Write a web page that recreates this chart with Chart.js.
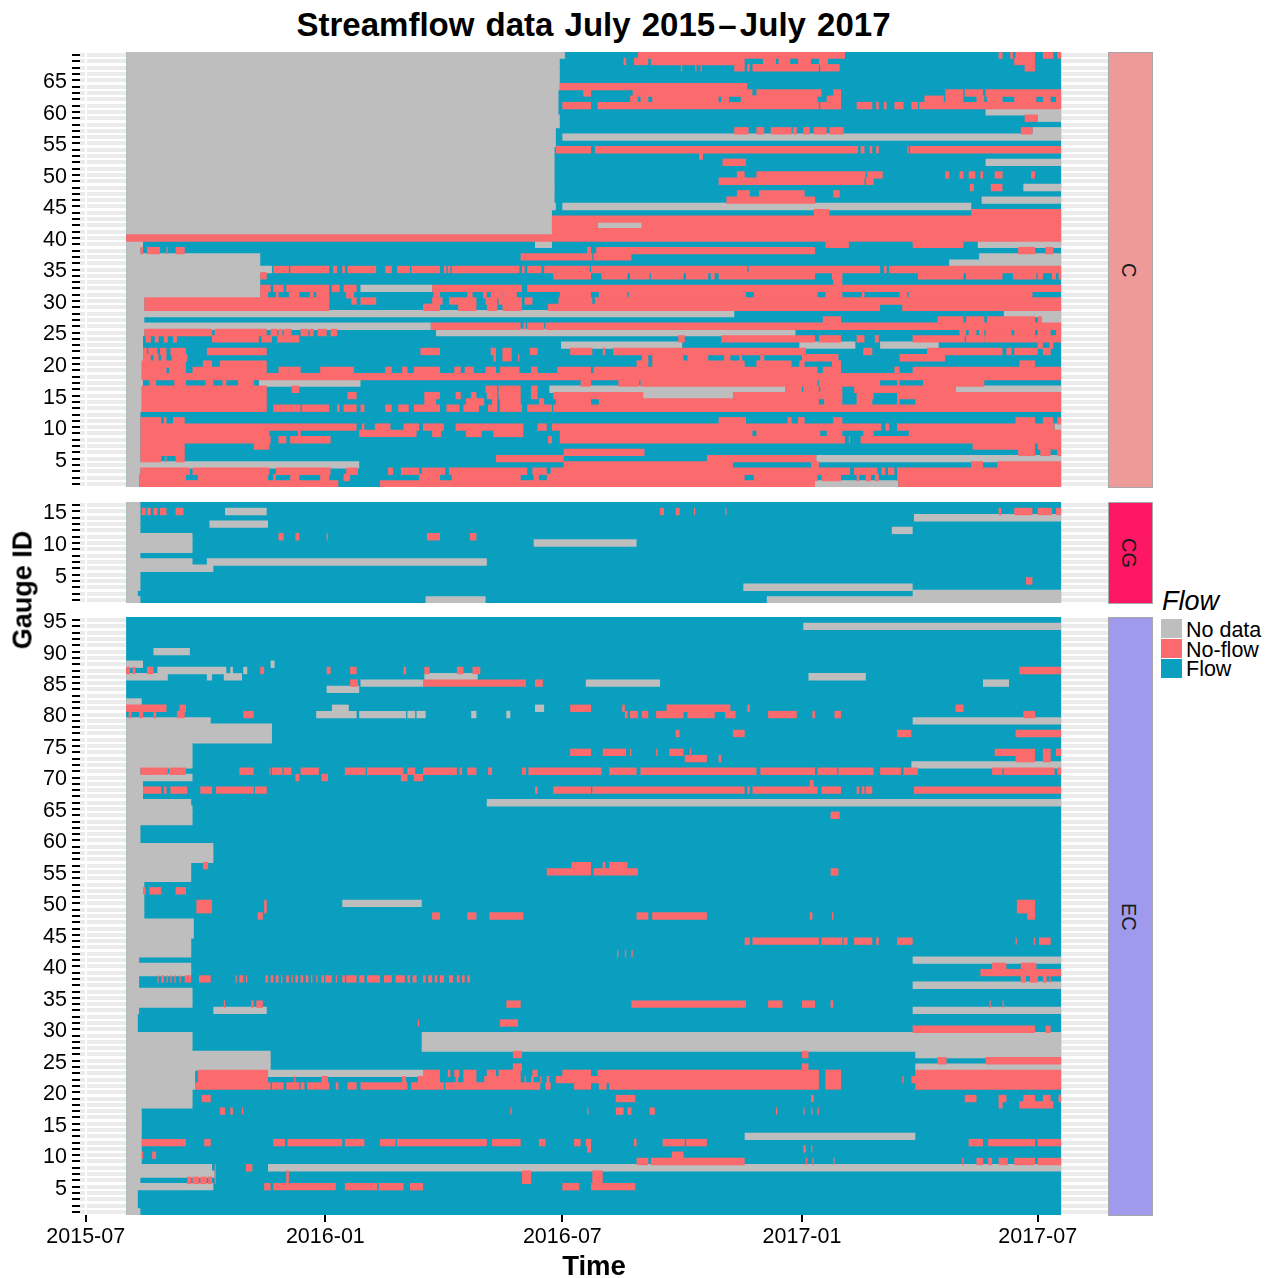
<!DOCTYPE html>
<html>
<head>
<meta charset="utf-8">
<title>Streamflow data</title>
<script src="https://cdn.jsdelivr.net/npm/chart.js@4"></script>
<style>
body { margin: 0; background: #fff; font-family: "Liberation Sans", Arial, sans-serif; color: #000; }
#page { position: relative; width: 1270px; height: 1278px; overflow: hidden; }
canvas { position: absolute; left: 0; }
.txt { position: absolute; white-space: nowrap; }
#title { left: 0; width: 1187px; top: 6px; text-align: center; font-weight: bold; font-size: 33px; word-spacing: 2px; }
#title span { word-spacing: -6px; }
#ylab { left: 23px; top: 590px; font-weight: bold; font-size: 27px; transform: translate(-50%, -50%) rotate(-90deg); }
#xlab { left: 594px; top: 1266px; font-weight: bold; font-size: 27.5px; transform: translate(-50%, -50%); }
.strip { position: absolute; left: 1108px; width: 43px; box-sizing: content-box; border: 1px solid #a8a8a8; display: flex; align-items: center; justify-content: center; font-size: 20px; color: #1a1a1a; }
.strip span { writing-mode: vertical-rl; margin-right: 4px; }
#legtitle { left: 1162px; top: 586px; font-style: italic; font-size: 27px; }
.key { position: absolute; left: 1161px; width: 21px; height: 19px; }
.keytxt { position: absolute; left: 1186px; font-size: 21.5px; line-height: 20px; }
</style>
</head>
<body>
<div id="page">
  <div class="txt" id="title">Streamflow data July <span>2015 – July</span> 2017</div>
  <canvas id="panelC" width="1108" height="447" style="top:40px"></canvas>
  <canvas id="panelCG" width="1108" height="113" style="top:490px"></canvas>
  <canvas id="panelEC" width="1108" height="650" style="top:605px"></canvas>
  <div class="strip" style="top:52px;height:434px;background:#ee9a99"><span>C</span></div>
  <div class="strip" style="top:502px;height:100px;background:#fd1765"><span>CG</span></div>
  <div class="strip" style="top:617px;height:597px;background:#a09aec"><span>EC</span></div>
  <div class="txt" id="ylab">Gauge ID</div>
  <div class="txt" id="xlab">Time</div>
  <div class="txt" id="legtitle">Flow</div>
  <div class="key" style="top:619px;background:#bebebe"></div><div class="keytxt" style="top:620px">No data</div>
  <div class="key" style="top:639px;background:#fb6a6c"></div><div class="keytxt" style="top:640px">No-flow</div>
  <div class="key" style="top:659px;background:#0a9fbe"></div><div class="keytxt" style="top:659px">Flow</div>
</div>
<script>
// all x values are days since 2015-07-01, rows are [gauge, from, to]
const tickDays = [0, 184, 366, 550, 731];
const tickLabels = ['2015-07', '2016-01', '2016-07', '2017-01', '2017-07'];
const recordStart = 31;
const recordEnd = 749;

const cNoData = [
  [69,31,368],[68,31,364],[67,31,364],[66,31,364],[65,31,364],[64,31,364],[63,31,363],[62,31,363],[61,31,363],[60,31,363],
  [60,691,749],[59,31,364],[59,731,749],[58,31,364],[57,31,361],[57,727,749],[56,31,361],[56,366,749],[55,31,361],
  [54,31,360],[53,31,360],[52,31,360],[52,691,749],[51,31,360],[50,31,360],[49,31,360],[48,31,360],[48,720,749],[47,31,360],
  [46,31,360],[46,688,749],[45,31,361],[45,366,680],[44,31,358],[43,31,358],[42,31,358],[42,393,427],[41,31,358],
  [39,31,44],[39,345,358],[39,685,749],[38,31,42],[37,31,134],[37,686,749],[36,31,134],[36,663,749],
  [35,31,143],[34,31,134],[33,31,134],[32,31,134],[32,211,266],[31,31,134],[30,31,45],[29,31,45],[28,31,498],[28,705,749],
  [27,31,45],[27,734,749],[26,31,265],[25,31,45],[25,269,545],[24,31,44],[23,31,44],[23,365,458],[23,548,591],[23,610,655],
  [22,31,44],[21,31,44],[20,31,43],[19,31,43],[18,31,43],[17,31,44],[17,133,211],[16,31,43],[16,356,537],[16,668,749],
  [15,31,43],[15,428,497],[14,31,43],[13,31,43],[12,31,42],[11,31,42],[10,31,42],[10,744,749],[9,31,42],[8,31,42],
  [7,31,42],[6,31,42],[5,31,42],[5,561,749],[4,31,210],[3,31,42],[2,31,41],[1,31,41],[1,560,624]
];
const cNoFlow = [
  [69,424,583],[69,701,704],[69,710,712],[69,714,729],[69,735,743],[69,746,749],
  [68,413,415],[68,421,432],[68,434,506],[68,520,530],[68,532,541],[68,547,557],[68,563,570],[68,713,729],
  [67,457,458],[67,468,469],[67,472,473],[67,498,506],[67,508,510],[67,512,563],[67,564,579],[67,721,729],
  [64,364,508],
  [63,382,388],[63,420,512],[63,515,565],[63,574,580],[63,660,674],[63,675,689],[63,691,749],
  [62,418,424],[62,426,432],[62,435,486],[62,488,494],[62,503,562],[62,569,580],[62,644,659],[62,660,674],[62,684,690],[62,692,704],[62,713,730],[62,735,741],[62,745,749],
  [61,366,388],[61,393,563],[61,564,580],[61,592,604],[61,607,609],[61,613,615],[61,621,628],[61,634,639],[61,640,749],
  [59,721,731],
  [57,498,509],[57,515,521],[57,526,542],[57,543,546],[57,551,556],[57,559,569],[57,571,582],[57,718,727],
  [54,361,388],[54,391,593],[54,595,598],[54,602,604],[54,607,609],[54,631,632],[54,633,749],
  [53,471,474],
  [52,489,507],
  [50,500,506],[50,515,599],[50,600,612],[50,660,663],[50,671,674],[50,678,683],[50,687,689],[50,698,704],[50,726,729],
  [49,486,598],[49,599,605],
  [48,679,682],[48,695,704],
  [47,500,510],[47,517,552],[47,574,579],
  [46,492,560],
  [44,559,571],[44,680,749],
  [43,358,749],
  [42,358,393],[42,427,749],
  [41,358,749],
  [40,31,749],
  [39,568,586],[39,635,674],
  [38,42,44],[38,47,57],[38,62,63],[38,69,76],[38,385,388],[38,392,560],[38,716,729],[38,737,743],
  [37,334,389],[37,390,419],
  [35,144,156],[35,157,187],[35,190,193],[35,197,199],[35,201,223],[35,230,235],[35,239,249],[35,250,272],[35,275,277],[35,278,280],[35,281,333],[35,335,337],[35,339,350],[35,352,387],[35,388,508],[35,509,610],[35,613,615],[35,617,619],[35,619,749],
  [34,134,139],[34,359,388],[34,396,416],[34,418,433],[34,434,459],[34,461,478],[34,480,483],[34,486,560],[34,573,581],[34,639,674],[34,676,704],[34,712,730],[34,731,735],[34,742,745],[34,747,749],
  [33,574,581],
  [32,134,142],[32,144,152],[32,154,187],[32,189,195],[32,198,208],[32,266,335],[32,339,749],
  [31,134,140],[31,146,148],[31,156,164],[31,172,175],[31,177,187],[31,200,206],[31,267,272],[31,293,297],[31,305,308],[31,311,320],[31,320,331],[31,364,388],[31,394,416],[31,417,507],[31,513,562],[31,568,581],[31,596,598],[31,625,631],[31,632,727],
  [30,45,187],[30,204,208],[30,211,223],[30,266,274],[30,279,300],[30,307,316],[30,317,335],[30,337,343],[30,363,389],[30,391,749],
  [29,45,187],[29,259,272],[29,286,300],[29,308,316],[29,320,335],[29,355,610],[29,627,749],
  [27,566,580],[27,654,674],[27,676,690],[27,692,729],[27,731,734],
  [26,265,334],[26,336,338],[26,339,352],[26,353,749],
  [25,45,97],[25,99,139],[25,142,147],[25,148,151],[25,152,158],[25,165,171],[25,172,175],[25,178,185],[25,188,193],[25,671,676],[25,678,684],[25,686,690],[25,691,711],[25,713,729],[25,731,741],[25,745,749],
  [24,46,50],[24,53,56],[24,60,63],[24,67,70],[24,97,133],[24,135,143],[24,147,164],[24,455,460],[24,488,560],[24,563,580],[24,592,598],[24,606,609],[24,635,675],[24,676,690],[24,690,749],
  [23,731,735],[23,740,743],
  [22,44,47],[22,48,55],[22,57,62],[22,65,77],[22,93,139],[22,257,272],[22,311,315],[22,320,327],[22,341,347],[22,372,389],[22,397,399],[22,405,553],[22,597,604],[22,646,704],[22,707,711],[22,713,731],[22,735,741],
  [21,44,50],[21,52,56],[21,58,62],[21,66,78],[21,313,315],[21,320,327],[21,332,333],[21,427,432],[21,435,459],[21,462,478],[21,490,495],[21,502,504],[21,518,521],[21,550,578],[21,625,660],
  [20,43,77],[20,90,97],[20,103,139],[20,423,432],[20,435,506],[20,515,542],[20,548,552],[20,573,580],[20,717,729],
  [19,43,62],[19,64,77],[19,82,139],[19,148,156],[19,156,165],[19,180,206],[19,230,235],[19,243,247],[19,252,272],[19,283,288],[19,291,298],[19,307,315],[19,318,333],[19,342,347],[19,362,388],[19,390,562],[19,566,580],[19,621,625],[19,635,749],
  [18,43,749],
  [17,49,54],[17,68,77],[17,92,98],[17,105,108],[17,117,129],[17,380,388],[17,409,425],[17,426,562],[17,563,610],[17,623,625],[17,643,690],
  [16,43,139],[16,158,164],[16,307,316],[16,317,334],[16,342,347],[16,537,550],[16,551,563],[16,564,581],[16,590,668],
  [15,43,139],[15,201,208],[15,260,272],[15,284,288],[15,296,300],[15,308,316],[15,317,334],[15,342,347],[15,359,428],[15,497,581],[15,592,605],[15,623,749],
  [14,43,139],[14,260,269],[14,292,306],[14,312,316],[14,318,334],[14,348,352],[14,361,388],[14,394,563],[14,567,581],[14,592,604],[14,623,625],[14,637,749],
  [13,43,139],[13,144,165],[13,166,187],[13,193,195],[13,198,208],[13,211,214],[13,230,235],[13,240,248],[13,252,272],[13,277,287],[13,290,302],[13,309,316],[13,318,335],[13,339,358],[13,359,749],
  [11,42,58],[11,60,62],[11,67,76],[11,486,507],[11,539,542],[11,547,552],[11,574,581],[11,714,729],[11,735,743],[11,746,749],
  [10,42,208],[10,212,214],[10,222,234],[10,244,256],[10,259,275],[10,284,336],[10,347,354],[10,358,611],[10,614,617],[10,623,744],
  [9,42,141],[9,163,165],[9,210,254],[9,266,273],[9,292,304],[9,313,336],[9,364,512],[9,515,564],[9,569,581],[9,597,605],[9,632,749],
  [8,42,142],[8,148,154],[8,157,188],[8,355,358],[8,364,583],[8,586,587],[8,595,749],
  [7,42,76],[7,129,141],[7,681,689],[7,689,729],[7,731,749],
  [6,42,76],[6,367,429],[6,716,729],[6,733,741],[6,746,749],
  [5,42,58],[5,61,62],[5,69,76],[5,315,367],[5,477,561],
  [4,367,497],[4,557,563],[4,680,689],[4,700,749],
  [3,42,80],[3,82,141],[3,146,188],[3,200,209],[3,232,236],[3,242,256],[3,258,276],[3,279,339],[3,343,354],[3,357,587],[3,590,608],[3,611,614],[3,616,621],[3,623,749],
  [2,41,77],[2,86,140],[2,144,146],[2,157,164],[2,180,187],[2,198,203],[2,256,272],[2,281,334],[2,344,348],[2,354,506],[2,513,562],[2,565,580],[2,592,594],[2,599,603],[2,606,609],[2,623,749],
  [1,41,194],[1,226,560],[1,624,749]
];

const cgNoData = [
  [16,31,42],[15,31,42],[15,107,139],[14,31,42],[14,636,749],[13,31,42],[13,95,140],[12,31,42],[12,619,635],
  [11,31,82],[10,31,82],[10,344,423],[9,31,82],[8,31,42],[7,31,82],[7,93,308],[6,31,98],[5,31,42],[4,31,42],
  [3,31,42],[3,505,635],[2,31,40],[2,635,749],[1,31,42],[1,261,307],[1,523,749]
];
const cgNoFlow = [
  [15,43,46],[15,47,50],[15,52,55],[15,57,62],[15,69,75],[15,441,444],[15,453,456],[15,467,468],[15,491,492],[15,701,703],[15,713,727],[15,731,742],[15,745,749],
  [11,148,152],[11,161,164],[11,185,186],[11,262,272],[11,295,300],
  [4,722,727]
];

const ecNoData = [
  [94,551,749],[90,52,80],[88,31,44],[88,142,145],[87,55,108],[87,111,113],[87,121,124],[86,31,63],[86,93,97],[86,106,120],[86,260,301],[86,555,599],
  [85,211,259],[85,384,441],[85,689,709],[84,185,210],[82,31,43],[81,189,202],[81,345,352],
  [80,177,208],[80,210,246],[80,247,253],[80,254,261],[80,296,300],[80,323,326],
  [79,31,96],[79,635,749],[78,31,143],[77,31,143],[76,31,143],[75,31,82],[74,31,82],[73,31,82],[72,31,82],[72,634,749],
  [71,31,42],[70,31,82],[69,31,44],[68,31,44],[67,31,44],[66,31,81],[66,308,749],[65,31,82],[64,31,82],[63,31,82],
  [62,31,42],[61,31,42],[60,31,42],[59,31,98],[58,31,98],[57,31,98],[56,31,81],[55,31,81],[54,31,81],
  [53,31,45],[52,31,45],[51,31,45],[50,31,45],[50,197,258],[49,31,45],[48,31,45],[47,31,83],[46,31,83],[45,31,83],
  [44,31,81],[43,31,81],[42,31,81],[41,31,41],[41,635,749],[40,31,81],[39,31,81],[38,31,41],[37,31,41],[37,635,749],
  [36,31,82],[35,31,82],[34,31,82],[33,31,41],[33,98,139],[33,635,749],[32,31,40],[31,31,40],[30,31,40],
  [29,31,82],[29,258,749],[28,31,82],[28,258,749],[27,31,82],[27,258,749],
  [26,31,142],[26,637,749],[25,31,142],[24,31,142],[24,637,749],[23,31,84],[23,140,259],[22,31,84],[21,31,84],
  [20,31,82],[19,31,82],[18,31,82],[17,31,43],[16,31,43],[15,31,43],[14,31,43],[13,31,43],[13,506,637],[12,31,43],[11,31,43],[10,31,43],[9,31,43],
  [8,31,97],[8,140,749],[7,31,99],[6,31,42],[5,31,98],[4,31,40],[3,31,40],[2,31,40],[1,31,42]
];
const ecNoFlow = [
  [87,31,34],[87,36,38],[87,47,52],[87,134,137],[87,185,188],[87,203,208],[87,244,246],[87,260,264],[87,285,290],[87,297,303],[87,717,749],
  [85,203,209],[85,259,338],[85,345,351],
  [81,31,62],[81,72,77],[81,372,388],[81,412,414],[81,446,495],[81,508,510],[81,668,674],
  [80,33,35],[80,41,44],[80,52,54],[80,70,76],[80,121,129],[80,414,416],[80,418,424],[80,427,432],[80,438,459],[80,462,483],[80,491,499],[80,524,546],[80,558,560],[80,575,580],[80,720,729],
  [77,453,456],[77,497,506],[77,623,634],[77,714,749],
  [74,372,388],[74,397,415],[74,418,419],[74,438,439],[74,448,459],[74,464,465],[74,698,729],[74,735,741],[74,745,749],
  [73,460,477],[73,486,488],[73,714,729],[73,735,741],
  [71,42,55],[71,55,63],[71,64,77],[71,118,129],[71,141,142],[71,143,151],[71,152,158],[71,165,179],[71,199,215],[71,216,244],[71,247,253],[71,259,285],[71,287,289],[71,293,300],[71,309,312],[71,335,338],[71,340,396],[71,402,423],[71,426,515],[71,518,560],[71,562,577],[71,578,605],[71,610,626],[71,628,639],[71,696,704],[71,705,744],[71,746,749],
  [70,161,164],[70,181,186],[70,242,247],[70,252,259],
  [69,556,559],
  [68,44,58],[68,60,62],[68,65,78],[68,88,97],[68,100,129],[68,130,139],[68,345,347],[68,359,388],[68,389,506],[68,508,510],[68,512,562],[68,565,580],[68,592,594],[68,596,598],[68,599,604],[68,636,749],
  [64,572,579],
  [56,90,94],[56,373,388],[56,397,399],[56,402,416],
  [55,354,388],[55,390,424],[55,572,578],
  [52,44,46],[52,49,58],[52,69,77],
  [50,85,97],[50,137,139],[50,715,729],
  [49,85,97],[49,137,139],[49,715,729],
  [48,132,136],[48,266,272],[48,293,300],[48,310,336],[48,423,432],[48,435,477],[48,556,558],[48,573,574],[48,723,729],
  [44,506,510],[44,512,563],[44,565,581],[44,582,585],[44,590,604],[44,607,609],[44,623,635],[44,714,715],[44,728,729],[44,732,741],
  [42,408,409],[42,414,415],[42,419,420],
  [40,696,707],[40,718,730],
  [39,687,749],
  [38,55,56],[38,58,60],[38,62,63],[38,65,66],[38,68,69],[38,72,73],[38,76,78],[38,78,81],[38,87,96],[38,115,116],[38,118,121],[38,123,124],
  [38,138,140],[38,142,144],[38,146,148],[38,150,151],[38,154,156],[38,158,159],[38,161,163],[38,165,167],[38,169,171],[38,173,174],[38,177,178],[38,181,183],[38,184,189],[38,192,193],
  [38,197,199],[38,200,208],[38,210,214],[38,216,226],[38,229,235],[38,238,245],[38,247,249],[38,251,254],[38,259,261],[38,263,266],[38,268,270],[38,272,275],[38,279,282],[38,285,287],[38,289,291],[38,293,295],
  [38,718,722],[38,725,731],[38,735,738],[38,740,741],
  [34,106,107],[34,127,129],[34,131,136],[34,323,334],[34,419,507],[34,524,535],[34,550,560],[34,572,574],[34,694,695],[34,704,705],
  [31,255,256],[31,318,332],
  [30,635,729],[30,737,741],
  [26,328,335],[26,550,555],
  [25,654,661],[25,691,749],
  [24,328,335],[24,550,555],
  [23,86,140],[23,259,272],[23,278,280],[23,283,287],[23,290,300],[23,308,315],[23,317,334],[23,343,347],[23,366,388],[23,393,563],[23,568,580],[23,637,749],
  [22,86,140],[22,160,161],[22,181,186],[22,243,246],[22,255,272],[22,284,286],[22,290,300],[22,306,334],[22,337,338],[22,342,344],[22,349,350],[22,354,356],[22,361,563],[22,568,580],[22,627,628],[22,634,749],
  [21,84,142],[21,143,152],[21,154,164],[21,165,168],[21,170,187],[21,192,194],[21,201,208],[21,211,247],[21,250,275],[21,276,349],[21,353,357],[21,375,388],[21,394,400],[21,402,563],[21,568,580],[21,637,749],
  [19,89,96],[19,407,422],[19,557,559],[19,675,684],[19,701,707],[19,720,729],[19,735,741],[19,747,749],
  [18,701,704],[18,717,743],
  [17,103,107],[17,111,113],[17,120,121],[17,326,327],[17,385,386],[17,407,413],[17,416,419],[17,433,437],[17,530,531],[17,551,552],[17,557,558],[17,562,563],
  [12,43,77],[12,91,96],[12,144,153],[12,155,197],[12,199,214],[12,226,238],[12,239,308],[12,312,334],[12,348,353],[12,375,380],[12,384,388],[12,421,423],[12,443,460],[12,461,477],[12,678,689],[12,693,729],[12,731,749],
  [11,385,388],[11,551,553],[11,557,558],
  [10,43,44],[10,51,54],[10,450,459],
  [9,423,432],[9,434,506],[9,553,554],[9,558,559],[9,574,575],[9,673,674],[9,684,689],[9,693,696],[9,701,708],[9,713,729],[9,731,749],
  [8,99,100],[8,123,128],
  [7,99,100],[7,154,156],[7,335,342],[7,389,397],
  [6,78,81],[6,82,87],[6,88,93],[6,94,97],[6,99,100],[6,154,156],[6,335,342],[6,389,397],
  [5,137,142],[5,144,192],[5,199,224],[5,225,244],[5,249,259],[5,366,379],[5,388,422]
];

const flowColor = '#0a9fbe';
const noFlowColor = '#fb6a6c';
const noDataColor = '#bebebe';

function descending(n) {
    const out = [];
    for (let g = n; g >= 1; g--) out.push(g);
    return out;
}

function rows(list) {
    return list.map(r => ({ y: r[0], x: [r[1], r[2]] }));
}

function drawPanel(id, gaugeCount, noData, noFlow, showTime) {
    const gauges = descending(gaugeCount);
    const flowRows = gauges.map(g => [g, recordStart, recordEnd]);
    // over 1 so neighbouring rows overlap by a full pixel and leave no seam
    const bar = { categoryPercentage: 1, barPercentage: 1.17, grouped: false, borderWidth: 0 };
    new Chart(document.getElementById(id), {
        type: 'bar',
        data: {
            labels: gauges,
            datasets: [
                Object.assign({ label: 'No-flow', data: rows(noFlow), backgroundColor: noFlowColor, order: 0 }, bar),
                Object.assign({ label: 'No data', data: rows(noData), backgroundColor: noDataColor, order: 1 }, bar),
                Object.assign({ label: 'Flow', data: rows(flowRows), backgroundColor: flowColor, order: 2 }, bar)
            ]
        },
        options: {
            indexAxis: 'y',
            responsive: false,
            animation: false,
            layout: { padding: { top: 12 } },
            plugins: { legend: { display: false }, tooltip: { enabled: false } },
            scales: {
                x: {
                    type: 'linear',
                    min: -4.4,
                    max: 785,
                    afterBuildTicks: s => { s.ticks = tickDays.map(v => ({ value: v })); },
                    afterFit: s => { s.height = showTime ? 40 : 0; s.paddingLeft = 0; s.paddingRight = 0; },
                    border: { display: false },
                    grid: { color: '#fff', lineWidth: 2, z: -1, tickColor: '#000', tickWidth: 2, tickLength: 7, drawTicks: showTime },
                    ticks: {
                        display: showTime,
                        autoSkip: false,
                        maxRotation: 0,
                        padding: 2,
                        color: '#000',
                        font: { family: 'Liberation Sans', size: 21.5 },
                        callback: v => tickLabels[tickDays.indexOf(v)]
                    }
                },
                y: {
                    type: 'category',
                    afterFit: s => { s.width = 80; s.paddingTop = 0; s.paddingBottom = 0; },
                    border: { display: false },
                    grid: { offset: false, color: '#ebebeb', lineWidth: 4, z: -2, tickColor: '#000', tickWidth: 2, tickLength: 8 },
                    ticks: {
                        autoSkip: false,
                        padding: 5,
                        labelOffset: 2,
                        color: '#000',
                        font: { family: 'Liberation Sans', size: 21.5 },
                        callback: function(v) {
                            const g = this.getLabelForValue(v);
                            return Number(g) % 5 === 0 ? g : '';
                        }
                    }
                }
            }
        }
    });
}

drawPanel('panelC', 69, cNoData, cNoFlow, false);
drawPanel('panelCG', 16, cgNoData, cgNoFlow, false);
drawPanel('panelEC', 95, ecNoData, ecNoFlow, true);
</script>
</body>
</html>
